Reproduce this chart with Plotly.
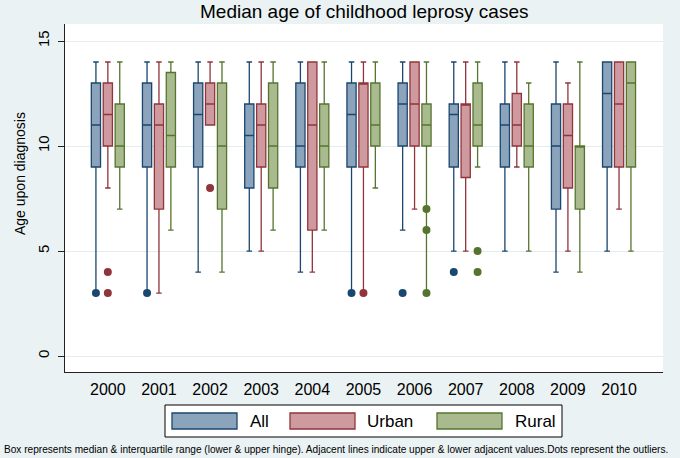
import plotly.graph_objects as go

# ---------------- data ----------------
years = [2000, 2001, 2002, 2003, 2004, 2005, 2006, 2007, 2008, 2009, 2010]
series_names = ["All", "Urban", "Rural"]

all_upper = [14, 14, 14, 14, 14, 14, 14, 14, 14, 14, 14]
all_q3 = [13, 13, 13, 12, 13, 13, 13, 12, 12, 12, 14]
all_median = [11, 11, 11.5, 10.5, 10, 11.5, 12, 11.5, 11, 10, 12.5]
all_q1 = [9, 9, 9, 8, 9, 9, 10, 9, 9, 7, 9]
all_lower = [3, 3, 4, 5, 4, 3, 6, 5, 5, 4, 5]

urban_upper = [14, 14, 14, 14, 14, 14, 14, 14, 14, 13, 14]
urban_q3 = [13, 12, 13, 12, 14, 13, 14, 12, 12.5, 12, 14]
urban_median = [11.5, 11, 12, 11, 11, 13, 12, 12, 11, 10.5, 12]
urban_q1 = [10, 7, 11, 9, 6, 9, 10, 8.5, 10, 8, 9]
urban_lower = [8, 3, 11, 5, 4, 3, 7, 5, 9, 5, 7]

rural_upper = [14, 14, 14, 14, 14, 14, 14, 14, 13, 14, 14]
rural_q3 = [12, 13.5, 13, 13, 12, 13, 12, 13, 12, 10, 14]
rural_median = [10, 10.5, 10, 10, 10, 11, 11, 11, 10, 10, 13]
rural_q1 = [9, 9, 7, 8, 9, 10, 10, 10, 9, 7, 9]
rural_lower = [7, 6, 4, 6, 6, 8, 3, 9, 5, 4, 5]

outlier_series = ["All", "Urban", "Urban", "All", "Urban", "All", "Urban",
                  "All", "Rural", "Rural", "Rural", "All", "Rural", "Rural"]
outlier_year = [2000, 2000, 2000, 2001, 2002, 2005, 2005,
                2006, 2006, 2006, 2006, 2007, 2007, 2007]
outlier_value = [3, 4, 3, 3, 8, 3, 3, 3, 7, 6, 3, 4, 5, 4]

title_text = "Median age of childhood leprosy cases"
ytitle_text = "Age upon diagnosis"
y_tick_vals = [0, 5, 10, 15]
footnote_text = ("Box represents median &amp; interquartile range (lower &amp; upper hinge). "
                 "Adjacent lines indicate upper &amp; lower adjacent values.Dots represent the outliers.")

# ---------------- styling ----------------
stats = {
    "All": (all_q1, all_median, all_q3, all_lower, all_upper),
    "Urban": (urban_q1, urban_median, urban_q3, urban_lower, urban_upper),
    "Rural": (rural_q1, rural_median, rural_q3, rural_lower, rural_upper),
}
line_colors = {"All": "#1a476f", "Urban": "#90353b", "Rural": "#55752f"}
fill_colors = {"All": "#8ca3bc", "Urban": "#cf9a9f", "Rural": "#a9bb8e"}
offsets = {"All": -0.233, "Urban": 0.0, "Rural": 0.233}
FONT = "Liberation Sans, Arial, sans-serif"
BG = "#eaf2f3"

W, H = 680, 458
L, R, T, B = 65, 663, 24, 372


def px(x):
    return (x - L) / (R - L)


def py(y):
    return (B - y) / (B - T)


fig = go.Figure()

for name in series_names:
    q1, med, q3, lo, hi = stats[name]
    fig.add_trace(go.Box(
        x=[yr + offsets[name] for yr in years],
        q1=q1, median=med, q3=q3, lowerfence=lo, upperfence=hi,
        width=0.18, whiskerwidth=0.6,
        line=dict(color=line_colors[name], width=1.3),
        fillcolor=fill_colors[name],
        boxpoints=False, name=name, showlegend=False, hoverinfo="skip",
    ))

for name in series_names:
    xs = [yr + offsets[name] for s, yr in zip(outlier_series, outlier_year) if s == name]
    ys = [v for s, v in zip(outlier_series, outlier_value) if s == name]
    fig.add_trace(go.Scatter(
        x=xs, y=ys, mode="markers",
        marker=dict(color=line_colors[name], size=8, line=dict(width=0)),
        showlegend=False, hoverinfo="skip", cliponaxis=False,
    ))

shapes = []
annotations = []

# custom legend
shapes.append(dict(type="rect", xref="paper", yref="paper",
                   x0=px(165), x1=px(562), y0=py(437), y1=py(405),
                   line=dict(color="#000000", width=1), fillcolor="white", layer="below"))
legend_rect_x = [172, 290, 437]
legend_label_x = [248, 365, 513]
for name, rx, lx in zip(series_names, legend_rect_x, legend_label_x):
    shapes.append(dict(type="rect", xref="paper", yref="paper",
                       x0=px(rx), x1=px(rx + 65), y0=py(429), y1=py(413),
                       line=dict(color=line_colors[name], width=1.3),
                       fillcolor=fill_colors[name]))
    annotations.append(dict(text=name, xref="paper", yref="paper",
                            x=px(lx), y=py(421), xanchor="left", yanchor="middle",
                            showarrow=False, font=dict(family=FONT, size=17, color="#000")))

annotations.append(dict(text=title_text, xref="paper", yref="paper",
                        x=px(364), y=py(12), xanchor="center", yanchor="middle",
                        showarrow=False, font=dict(family=FONT, size=19, color="#000")))
annotations.append(dict(text=ytitle_text, xref="paper", yref="paper",
                        x=px(20), y=py(174), xanchor="center", yanchor="middle",
                        textangle=-90, showarrow=False,
                        font=dict(family=FONT, size=14, color="#000")))
annotations.append(dict(text=footnote_text, xref="paper", yref="paper",
                        x=px(2), y=py(449), xanchor="left", yanchor="middle",
                        showarrow=False,
                        font=dict(family=FONT, size=10.1, color="#000")))

fig.update_layout(
    width=W, height=H, autosize=False,
    margin=dict(l=L, r=W - R, t=T, b=H - B, pad=0),
    paper_bgcolor=BG, plot_bgcolor="white",
    boxmode="overlay",
    shapes=shapes, annotations=annotations,
    font=dict(family=FONT, color="#000"),
)
fig.update_xaxes(
    range=[1999.162, 2010.86], tickvals=years, ticktext=[str(y) for y in years],
    showgrid=False, zeroline=False, showline=True, linecolor="#222", linewidth=1.2,
    ticks="outside", ticklen=3, tickcolor="rgba(0,0,0,0)",
    tickfont=dict(family=FONT, size=16, color="#000"),
)
fig.update_yaxes(
    range=[-0.76, 15.81], tickvals=y_tick_vals, tickangle=-90,
    showgrid=True, gridcolor="#e3ecee", gridwidth=1, zeroline=False,
    showline=True, linecolor="#222", linewidth=1.2,
    ticks="outside", ticklen=6, tickcolor="#222", ticklabelstandoff=3,
    tickfont=dict(family=FONT, size=15, color="#000"),
)

fig.write_html("out.html", config={"displayModeBar": False},
               post_script="document.body.style.margin='0';document.body.style.padding='0';")
